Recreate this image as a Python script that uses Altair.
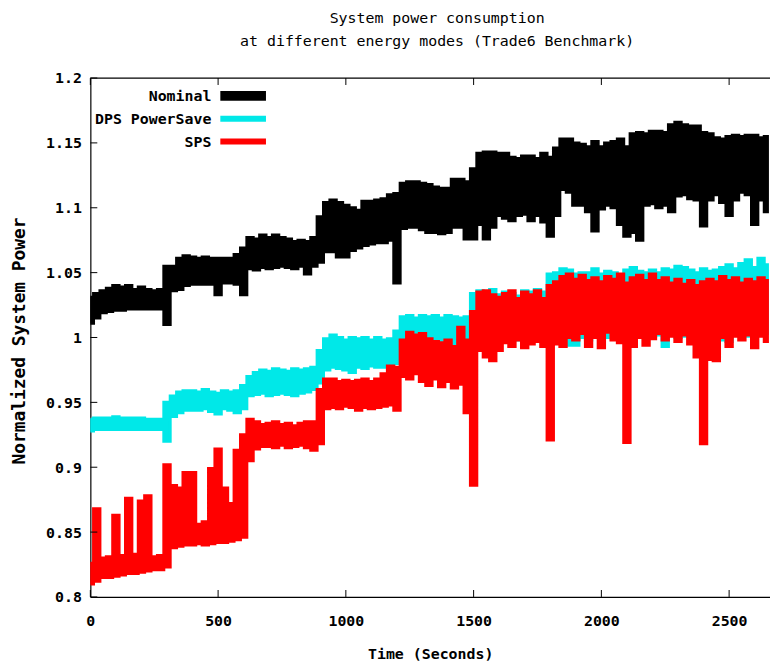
import altair as alt
import pandas as pd

STEP = 25  # seconds between envelope samples (t = 0, 25, ..., 2650)

# Nominal (black): upper / lower edge of the noisy trace
nominal_hi = [
    1.031, 1.034, 1.036, 1.038, 1.040, 1.039, 1.040, 1.037, 1.039, 1.037, 1.036, 1.037,
    1.055, 1.055, 1.061, 1.063, 1.062, 1.061, 1.062, 1.061, 1.061, 1.061, 1.061, 1.064,
    1.069, 1.077, 1.076, 1.079, 1.077, 1.079, 1.077, 1.076, 1.074, 1.075, 1.074, 1.077,
    1.093, 1.104, 1.106, 1.104, 1.102, 1.100, 1.098, 1.105, 1.105, 1.106, 1.107, 1.110,
    1.111, 1.119, 1.120, 1.120, 1.119, 1.118, 1.116, 1.115, 1.115, 1.122, 1.122, 1.120,
    1.130, 1.142, 1.143, 1.143, 1.142, 1.142, 1.139, 1.138, 1.140, 1.140, 1.138, 1.142,
    1.139, 1.146, 1.153, 1.153, 1.150, 1.149, 1.147, 1.151, 1.147, 1.150, 1.151, 1.153,
    1.147, 1.157, 1.158, 1.157, 1.159, 1.159, 1.158, 1.164, 1.166, 1.164, 1.163, 1.163,
    1.158, 1.157, 1.154, 1.153, 1.155, 1.156, 1.155, 1.156, 1.156, 1.154, 1.155,
]
nominal_lo = [
    1.011, 1.015, 1.019, 1.020, 1.021, 1.021, 1.022, 1.022, 1.022, 1.022, 1.022, 1.022,
    1.010, 1.036, 1.037, 1.040, 1.041, 1.041, 1.041, 1.041, 1.033, 1.042, 1.042, 1.041,
    1.033, 1.053, 1.052, 1.054, 1.053, 1.054, 1.055, 1.054, 1.053, 1.055, 1.049, 1.055,
    1.058, 1.066, 1.066, 1.062, 1.062, 1.067, 1.069, 1.071, 1.072, 1.073, 1.073, 1.075,
    1.042, 1.084, 1.085, 1.085, 1.083, 1.081, 1.081, 1.080, 1.081, 1.085, 1.085, 1.076,
    1.076, 1.087, 1.076, 1.085, 1.094, 1.092, 1.090, 1.094, 1.095, 1.090, 1.094, 1.089,
    1.078, 1.094, 1.114, 1.112, 1.102, 1.102, 1.097, 1.082, 1.099, 1.102, 1.100, 1.087,
    1.078, 1.081, 1.075, 1.102, 1.103, 1.100, 1.102, 1.097, 1.109, 1.110, 1.107, 1.106,
    1.086, 1.106, 1.110, 1.104, 1.094, 1.106, 1.112, 1.110, 1.087, 1.106, 1.097,
]

# DPS PowerSave (cyan)
dps_hi = [
    0.937, 0.938, 0.938, 0.938, 0.939, 0.938, 0.938, 0.938, 0.938, 0.937, 0.937, 0.937,
    0.950, 0.955, 0.958, 0.959, 0.959, 0.958, 0.960, 0.958, 0.957, 0.959, 0.958, 0.959,
    0.963, 0.970, 0.973, 0.975, 0.974, 0.976, 0.975, 0.974, 0.976, 0.975, 0.976, 0.977,
    0.990, 0.999, 1.002, 1.000, 0.998, 1.000, 0.999, 1.000, 0.998, 1.000, 0.998, 0.999,
    1.005, 1.016, 1.017, 1.015, 1.017, 1.016, 1.017, 1.015, 1.017, 1.016, 1.015, 1.016,
    1.034, 1.036, 1.034, 1.037, 1.033, 1.035, 1.034, 1.032, 1.036, 1.035, 1.037, 1.035,
    1.049, 1.050, 1.053, 1.052, 1.049, 1.050, 1.050, 1.053, 1.049, 1.051, 1.050, 1.048,
    1.052, 1.054, 1.051, 1.050, 1.052, 1.050, 1.053, 1.052, 1.055, 1.054, 1.052, 1.050,
    1.053, 1.051, 1.052, 1.054, 1.056, 1.053, 1.057, 1.060, 1.054, 1.061, 1.056,
]
dps_lo = [
    0.928, 0.929, 0.929, 0.929, 0.929, 0.929, 0.929, 0.929, 0.929, 0.929, 0.929, 0.929,
    0.920, 0.939, 0.942, 0.944, 0.944, 0.944, 0.945, 0.943, 0.941, 0.945, 0.944, 0.942,
    0.945, 0.955, 0.956, 0.957, 0.955, 0.956, 0.957, 0.956, 0.955, 0.957, 0.958, 0.960,
    0.965, 0.975, 0.977, 0.976, 0.975, 0.973, 0.977, 0.976, 0.978, 0.977, 0.977, 0.978,
    0.980, 0.993, 0.995, 0.994, 0.993, 0.993, 0.992, 0.993, 0.992, 0.993, 0.992, 0.992,
    1.000, 1.002, 0.999, 0.996, 0.999, 1.002, 1.000, 0.998, 1.002, 1.004, 1.003, 1.000,
    0.996, 1.005, 1.002, 0.994, 0.994, 1.000, 0.998, 1.002, 1.003, 1.000, 1.001, 1.002,
    1.000, 0.998, 1.002, 1.000, 1.001, 1.002, 0.993, 1.002, 1.000, 1.001, 1.002, 1.000,
    1.001, 1.003, 1.000, 0.998, 0.997, 1.002, 1.004, 1.001, 1.003, 1.002, 1.003,
]

# SPS (red)
sps_hi = [
    0.826, 0.868, 0.830, 0.831, 0.863, 0.832, 0.876, 0.833, 0.874, 0.878, 0.831, 0.832,
    0.902, 0.886, 0.884, 0.896, 0.896, 0.856, 0.858, 0.899, 0.914, 0.884, 0.872, 0.913,
    0.925, 0.937, 0.935, 0.933, 0.934, 0.935, 0.933, 0.934, 0.932, 0.934, 0.935, 0.935,
    0.960, 0.968, 0.968, 0.966, 0.967, 0.966, 0.967, 0.968, 0.966, 0.968, 0.972, 0.978,
    0.977, 0.998, 1.004, 1.002, 1.003, 0.999, 0.997, 0.996, 0.998, 0.993, 1.008, 0.998,
    1.020, 1.035, 1.036, 1.033, 1.031, 1.034, 1.036, 1.030, 1.035, 1.033, 1.036, 1.030,
    1.040, 1.043, 1.047, 1.049, 1.045, 1.048, 1.044, 1.046, 1.043, 1.047, 1.045, 1.049,
    1.042, 1.046, 1.048, 1.044, 1.049, 1.044, 1.046, 1.042, 1.045, 1.041, 1.044, 1.040,
    1.043, 1.045, 1.043, 1.047, 1.044, 1.046, 1.042, 1.045, 1.043, 1.046, 1.044,
]
sps_lo = [
    0.810, 0.812, 0.815, 0.815, 0.816, 0.817, 0.818, 0.818, 0.819, 0.820, 0.821, 0.821,
    0.823, 0.838, 0.839, 0.840, 0.840, 0.841, 0.840, 0.841, 0.842, 0.842, 0.843, 0.844,
    0.846, 0.905, 0.914, 0.916, 0.916, 0.915, 0.917, 0.915, 0.916, 0.917, 0.915, 0.913,
    0.918, 0.945, 0.946, 0.945, 0.947, 0.946, 0.944, 0.946, 0.945, 0.946, 0.947, 0.948,
    0.944, 0.970, 0.968, 0.972, 0.966, 0.963, 0.968, 0.962, 0.966, 0.961, 0.964, 0.942,
    0.886, 0.990, 0.985, 0.982, 0.990, 0.996, 0.993, 0.998, 0.992, 0.995, 0.997, 0.993,
    0.921, 0.995, 0.993, 1.000, 0.998, 1.003, 0.993, 1.000, 0.992, 1.004, 0.998, 0.996,
    0.919, 0.993, 1.000, 0.994, 0.999, 1.003, 0.998, 1.001, 0.997, 1.002, 0.995, 0.985,
    0.918, 0.983, 0.982, 1.000, 0.993, 1.001, 0.998, 1.002, 0.992, 1.001, 0.997,
]

series_names = ["Nominal", "DPS PowerSave", "SPS"]
series_colors = ["#000000", "#00e8e8", "#ff0000"]
legend_widths = [10, 6, 6]
x_ticks = [0, 500, 1000, 1500, 2000, 2500]
y_ticks = [0.8, 0.85, 0.9, 0.95, 1.0, 1.05, 1.1, 1.15, 1.2]
title_lines = ["System power consumption", "at different energy modes (Trade6 Benchmark)"]

W, H = 685, 523
FONT = "DejaVu Sans Mono"

x_scale = alt.Scale(domain=[0, 2660], nice=False, zero=False)
y_scale = alt.Scale(domain=[0.8, 1.2], nice=False, zero=False)

x_axis = alt.Axis(
    values=x_ticks, ticks=False, tickSize=0, grid=False, format="d",
    labelFont=FONT, labelFontSize=15, labelFontWeight="bold", labelColor="black",
    labelPadding=17, labelFlush=False,
    domainColor="black", domainWidth=1.2,
    title="Time (Seconds)", titleFont=FONT, titleFontSize=15, titleFontWeight="bold",
    titleColor="black", titleBaseline="alphabetic", titleY=62,
)
y_axis = alt.Axis(
    values=y_ticks, ticks=False, tickSize=0, grid=False, format="~g",
    labelFont=FONT, labelFontSize=15, labelFontWeight="bold", labelColor="black",
    labelPadding=9, labelFlush=False,
    domainColor="black", domainWidth=1.2,
    title="Normalized System Power", titleFont=FONT, titleFontSize=18,
    titleFontWeight="bold", titleColor="black", titleAngle=270,
    titleBaseline="alphabetic", titleAlign="center", titleX=-66, titleY=H / 2 + 3,
)

X = lambda field: alt.X(field, scale=x_scale, axis=x_axis)
Y = lambda field: alt.Y(field, scale=y_scale, axis=y_axis)

datasets = [(nominal_hi, nominal_lo), (dps_hi, dps_lo), (sps_hi, sps_lo)]
layers = []
for name, color, (hi, lo) in zip(series_names, series_colors, datasets):
    df = pd.DataFrame({
        "series": name,
        "t": [i * STEP for i in range(len(hi))],
        "hi": hi,
        "lo": lo,
    })
    layers.append(
        alt.Chart(df).mark_area(
            interpolate="step", color=color, stroke=color, strokeWidth=3,
            strokeJoin="miter", opacity=1, clip=True,
        ).encode(x=X("t:Q"), y=Y("hi:Q"), y2="lo:Q")
    )

xt = pd.DataFrame({"t": x_ticks})
yt = pd.DataFrame({"v": y_ticks})
layers.append(alt.Chart(xt).mark_rule(color="black", strokeWidth=1).encode(
    x=X("t:Q"), y=alt.value(H), y2=alt.value(H - 7)))
layers.append(alt.Chart(xt).mark_rule(color="black", strokeWidth=1).encode(
    x=X("t:Q"), y=alt.value(0), y2=alt.value(7)))
layers.append(alt.Chart(yt).mark_rule(color="black", strokeWidth=1).encode(
    y=Y("v:Q"), x=alt.value(0), x2=alt.value(7)))
layers.append(alt.Chart(pd.DataFrame({"b": [0]})).mark_rule(color="black", strokeWidth=1.2).encode(
    x=alt.value(0), x2=alt.value(W), y=alt.value(0)))

for i, (name, color, lw) in enumerate(zip(series_names, series_colors, legend_widths)):
    yy = 18 + 23 * i
    layers.append(alt.Chart(pd.DataFrame({"label": [name]})).mark_text(
        align="right", baseline="middle", font=FONT, fontSize=15, fontWeight="bold", color="black"
    ).encode(text="label:N", x=alt.value(122), y=alt.value(yy)))
    layers.append(alt.Chart(pd.DataFrame({"label": [name]})).mark_rule(
        color=color, strokeWidth=lw
    ).encode(x=alt.value(131), x2=alt.value(177), y=alt.value(yy)))

chart = alt.layer(*layers).properties(
    width=W,
    height=H,
    title=alt.TitleParams(
        text=title_lines, font=FONT, fontSize=15, fontWeight="normal", color="black",
        anchor="middle", offset=22, lineHeight=23, dx=7,
    ),
    padding={"left": 83, "top": 68, "right": 0, "bottom": 67},
    autosize=alt.AutoSizeParams(type="none"),
).configure_view(stroke=None)

chart.save("out.html", embed_options={"renderer": "svg", "actions": False})
